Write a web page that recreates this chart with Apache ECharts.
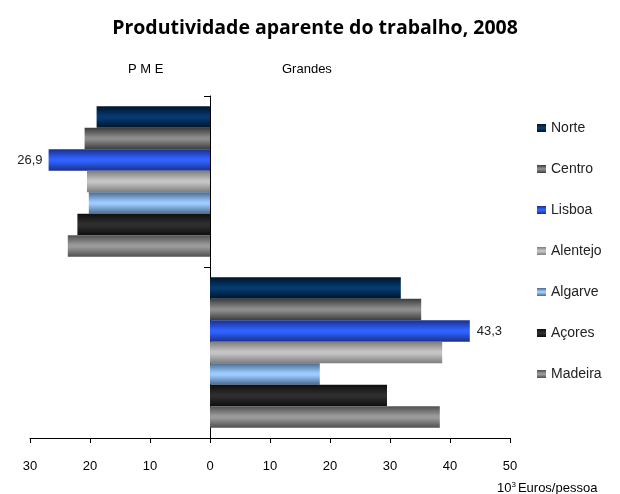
<!DOCTYPE html>
<html>
<head>
<meta charset="utf-8">
<script src="https://cdn.jsdelivr.net/npm/echarts@6/dist/echarts.min.js"></script>
<style>
  html, body { margin: 0; padding: 0; background: #fff; }
  #chart { width: 620px; height: 494px; }
</style>
</head>
<body>
<div id="chart"></div>
<script>
const groups = ['PME', 'Grandes']
const regions = ['Norte', 'Centro', 'Lisboa', 'Alentejo', 'Algarve', 'Açores', 'Madeira']
// 10^3 euros/pessoa
const pme = [18.9, 20.9, 26.9, 20.5, 20.2, 22.1, 23.7]
const grandes = [31.8, 35.2, 43.3, 38.7, 18.3, 29.5, 38.3]
const xTicks = { min: -30, max: 50, interval: 10 }

// [edge, centre] colours for the shaded bars
const barColors = [
  ['#001428', '#043a6e'],
  ['#3c3c3c', '#8c8c8c'],
  ['#1a2f8c', '#2f63ff'],
  ['#7d7d7d', '#c4c4c4'],
  ['#4a6a8e', '#9ccbff'],
  ['#0e0e0e', '#2e2e2e'],
  ['#4f4f4f', '#9a9a9a']
]

const font = 'Liberation Sans, Arial, sans-serif'

function shade(c) {
  return new echarts.graphic.LinearGradient(0, 0, 0, 1, [
    { offset: 0, color: c[0] },
    { offset: 0.45, color: c[1] },
    { offset: 0.55, color: c[1] },
    { offset: 1, color: c[0] }
  ])
}

const series = regions.map((name, i) => {
  const item = {
    name: name,
    type: 'bar',
    barGap: 0,
    barCategoryGap: '12%',
    itemStyle: { color: shade(barColors[i]) },
    data: [-pme[i], grandes[i]]
  }
  if (name === 'Lisboa') {
    item.data = [
      { value: -pme[i], label: { show: true, position: 'left', distance: 6 } },
      { value: grandes[i], label: { show: true, position: 'right', distance: 7 } }
    ]
    item.label = {
      color: '#222',
      fontFamily: font,
      fontSize: 13,
      formatter: p => Math.abs(p.value).toFixed(1).replace('.', ',')
    }
  }
  return item
})

const chart = echarts.init(document.getElementById('chart'))
chart.setOption({
  backgroundColor: '#fff',
  animation: false,
  title: {
    text: 'Produtividade aparente do trabalho, 2008',
    left: 310,
    textAlign: 'center',
    top: 13,
    textStyle: { fontFamily: 'Open Sans', fontWeight: 'bold', fontSize: 19.5, color: '#000' }
  },
  legend: {
    orient: 'vertical',
    left: 532,
    top: 116,
    icon: 'rect',
    itemWidth: 9,
    itemHeight: 8,
    itemGap: 27,
    selectedMode: false,
    textStyle: { fontFamily: font, fontSize: 14, color: '#222', lineHeight: 14 },
    data: regions
  },
  grid: { left: 30, right: 110, top: 96, bottom: 56 },
  xAxis: {
    type: 'value',
    min: xTicks.min,
    max: xTicks.max,
    interval: xTicks.interval,
    splitLine: { show: false },
    axisLine: { show: true, lineStyle: { color: '#000', width: 1 } },
    axisTick: { show: true, length: 5, lineStyle: { color: '#000' } },
    axisLabel: {
      margin: 22,
      fontFamily: font,
      fontSize: 13,
      color: '#000',
      formatter: v => Math.abs(v)
    }
  },
  yAxis: {
    type: 'category',
    inverse: true,
    data: groups,
    axisLine: { onZero: true, lineStyle: { color: '#000', width: 1 } },
    axisTick: { show: true, length: 6, lineStyle: { color: '#000' } },
    axisLabel: { show: false }
  },
  graphic: [
    { type: 'text', left: 128, top: 63, style: { text: 'P M E', fontFamily: font, fontSize: 13, fill: '#000' } },
    { type: 'text', left: 282, top: 63, style: { text: 'Grandes', fontFamily: font, fontSize: 13, fill: '#000' } },
    {
      type: 'text', left: 497, top: 481,
      style: {
        text: '{s|10}{sup|3}{s|Euros/pessoa}',
        rich: {
          s: { fontFamily: font, fontSize: 13, fill: '#000', verticalAlign: 'bottom' },
          sup: { fontFamily: font, fontSize: 8, fill: '#000', verticalAlign: 'top', padding: [0, 2, 6, 0] }
        }
      }
    }
  ],
  series: series
})
</script>
</body>
</html>
